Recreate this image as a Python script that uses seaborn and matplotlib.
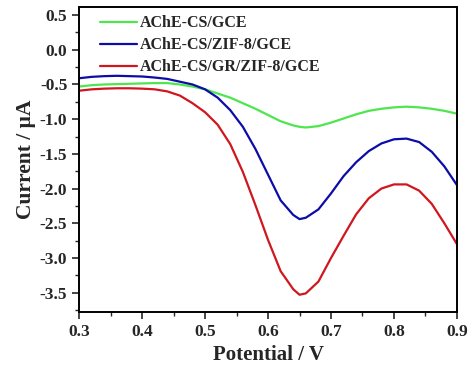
import numpy as np
import pandas as pd
import matplotlib.pyplot as plt
import matplotlib.ticker as mtick
import seaborn as sns

# potential (V) and current (uA)
potential = [0.30, 0.32, 0.34, 0.36, 0.38, 0.40, 0.42, 0.44, 0.46, 0.48,
             0.50, 0.52, 0.54, 0.56, 0.58, 0.60, 0.62, 0.64, 0.65, 0.66,
             0.68, 0.70, 0.72, 0.74, 0.76, 0.78, 0.80, 0.82, 0.84, 0.86,
             0.88, 0.90]

cs_gce = [-0.53, -0.51, -0.50, -0.495, -0.49, -0.485, -0.48, -0.48, -0.50, -0.53,
          -0.57, -0.63, -0.69, -0.77, -0.85, -0.94, -1.03, -1.09, -1.11, -1.12,
          -1.10, -1.05, -0.99, -0.93, -0.88, -0.85, -0.83, -0.82, -0.83, -0.85,
          -0.88, -0.92]

cs_zif_gce = [-0.41, -0.39, -0.38, -0.375, -0.38, -0.385, -0.40, -0.42, -0.46, -0.50,
              -0.57, -0.69, -0.87, -1.11, -1.43, -1.80, -2.17, -2.38, -2.44, -2.42,
              -2.30, -2.07, -1.82, -1.62, -1.46, -1.35, -1.29, -1.28, -1.33, -1.47,
              -1.68, -1.95]

cs_gr_zif_gce = [-0.59, -0.57, -0.56, -0.555, -0.555, -0.56, -0.57, -0.60, -0.66, -0.77,
                 -0.90, -1.08, -1.36, -1.76, -2.24, -2.74, -3.19, -3.45, -3.53, -3.51,
                 -3.34, -3.00, -2.68, -2.37, -2.14, -2.00, -1.94, -1.94, -2.03, -2.22,
                 -2.50, -2.80]

labels = ['AChE-CS/GCE', 'AChE-CS/ZIF-8/GCE', 'AChE-CS/GR/ZIF-8/GCE']
colors = ['#4de64d', '#0c0ca8', '#d0161e']

df = pd.DataFrame({
    'Potential': potential * 3,
    'Current': cs_gce + cs_zif_gce + cs_gr_zif_gce,
    'Electrode': [labels[0]] * len(potential) + [labels[1]] * len(potential) + [labels[2]] * len(potential),
})

sns.set_style('ticks')
plt.rcParams['font.family'] = ['Liberation Serif', 'DejaVu Serif']
plt.rcParams['font.weight'] = 'bold'

fig = plt.figure(figsize=(4.74, 3.72), dpi=100)
ax = fig.add_axes([0.167, 0.161, 0.797, 0.819])

sns.lineplot(data=df, x='Potential', y='Current', hue='Electrode',
             palette=colors, hue_order=labels, linewidth=1.6, ax=ax)

ax.set_xlim(0.3, 0.9)
ax.set_ylim(-3.78, 0.61)
ax.xaxis.set_major_locator(mtick.MultipleLocator(0.1))
ax.xaxis.set_minor_locator(mtick.MultipleLocator(0.05))
ax.yaxis.set_major_locator(mtick.MultipleLocator(0.5))
ax.yaxis.set_minor_locator(mtick.MultipleLocator(0.25))
ax.xaxis.set_major_formatter(mtick.FormatStrFormatter('%.1f'))
ax.yaxis.set_major_formatter(mtick.FormatStrFormatter('%.1f'))
ax.tick_params(which='major', length=5, width=1.2, labelsize=12.5)
ax.tick_params(which='minor', length=3, width=1.0)
for s in ax.spines.values():
    s.set_linewidth(1.4)
    s.set_color('black')

ax.set_xlabel('Potential / V', fontsize=15, fontweight='bold', labelpad=4)
ax.set_ylabel('Current / μA', fontsize=15.5, fontweight='bold', labelpad=3)

leg = ax.legend(loc='upper left', bbox_to_anchor=(0.018, 1.022), frameon=False,
                handlelength=2.3, handletextpad=0.2, labelspacing=0.38,
                prop={'weight': 'bold', 'size': 11.5})

fig.savefig('out.png', dpi=100)
